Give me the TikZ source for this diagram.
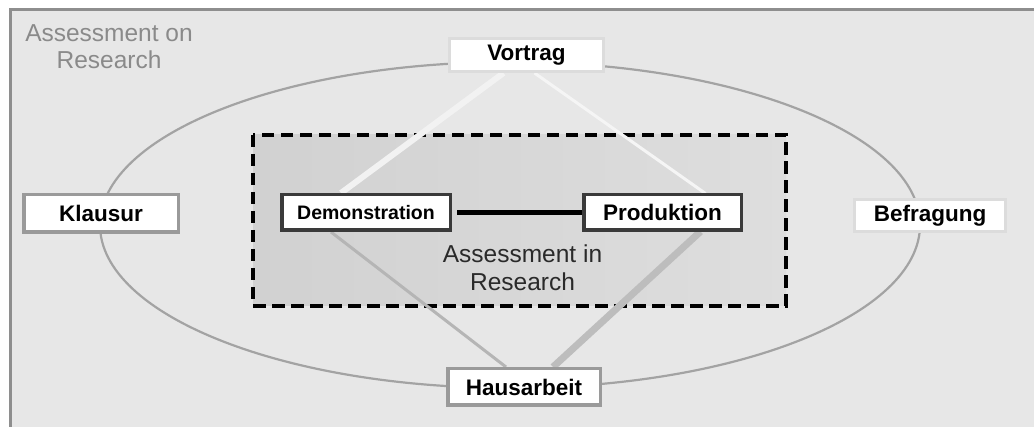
\documentclass[tikz,border=0pt]{standalone}
\usepackage{fontspec}
\setmainfont{Liberation Sans}
\usetikzlibrary{calc}
\pgfdeclarelayer{bg}
\pgfsetlayers{bg,main}
\definecolor{bgc}{HTML}{E7E7E7}
\definecolor{framec}{HTML}{8E8E8E}
\definecolor{ellc}{HTML}{A3A3A3}
\definecolor{lightb}{HTML}{DCDCDC}
\definecolor{midb}{HTML}{9A9A9A}
\definecolor{darkb}{HTML}{3A3A3A}
\definecolor{outtxt}{HTML}{8A8A8A}
\definecolor{intxt}{HTML}{2A2A2A}
\tikzset{
  box/.style={draw, fill=white, line width=3pt, inner sep=0pt, align=center,
    font=\fontsize{22.5}{24}\selectfont\bfseries},
  lightbox/.style={box, draw=lightb},
  midbox/.style={box, draw=midb, line width=3.5pt},
  darkbox/.style={box, draw=darkb, line width=3.5pt},
  link/.style={line cap=butt},
}
\begin{document}
\begin{tikzpicture}[x=1pt,y=-1pt]
\useasboundingbox (0,0) rectangle (1034,427);
% nodes
\node[lightbox, minimum width=154pt, minimum height=33pt] (v) at (526.5,55) {Vortrag};
\node[midbox, minimum width=154.5pt, minimum height=37.5pt] (k) at (101,213.5) {Klausur};
\node[darkbox, minimum width=168.5pt, minimum height=35.5pt, font=\fontsize{19.5}{21}\selectfont\bfseries] (d) at (366,212.5) {Demonstration};
\node[darkbox, minimum width=157.5pt, minimum height=35.5pt] (p) at (662.5,212.5) {Produktion};
\node[lightbox, minimum width=151pt, minimum height=32pt] (b) at (930,215.5) {Befragung};
\node[midbox, minimum width=152.5pt, minimum height=36.5pt] (h) at (524,387) {Hausarbeit};
% texts
\node[text=outtxt, align=center, inner sep=0pt, font=\fontsize{24.5}{26.6}\selectfont] (t1) at (109,46.5) {Assessment on\\Research};
\node[text=intxt, align=center, inner sep=0pt, font=\fontsize{24.5}{28}\selectfont] (t2) at (522.5,268) {Assessment in\\Research};
\begin{pgfonlayer}{bg}
% background panel
\draw[framec, line width=3pt, fill=bgc] (10,10) rectangle (1045,440);
% ellipse
\draw[ellc, line width=2.2pt] (510,225) ellipse [x radius=410pt, y radius=163pt];
% inner dashed region
\draw[black, line width=3.5pt, dash pattern=on 12.5pt off 6.5pt, left color=black!18, right color=black!13]
  (253,135) rectangle (786,306);
% diamond connectors
\draw[link, white!95!black, line width=6pt] ($(v.center)+(-23,18)$) -- ($(d.center)+(-25,-19.5)$);
\draw[link, white!96!black, line width=3pt] ($(v.center)+(8,18)$) -- ($(p.center)+(43,-19)$);
\draw[link, black!29, line width=3pt] ($(d.center)+(-35,19.5)$) -- ($(h.center)+(-18,-20)$);
\draw[link, black!26, line width=7pt] ($(p.center)+(38,19)$) -- ($(h.center)+(29,-20)$);
\draw[link, black, line width=5.5pt] ($(d.east)+(5,0)$) -- (p.west);
\end{pgfonlayer}
\end{tikzpicture}
\end{document}
